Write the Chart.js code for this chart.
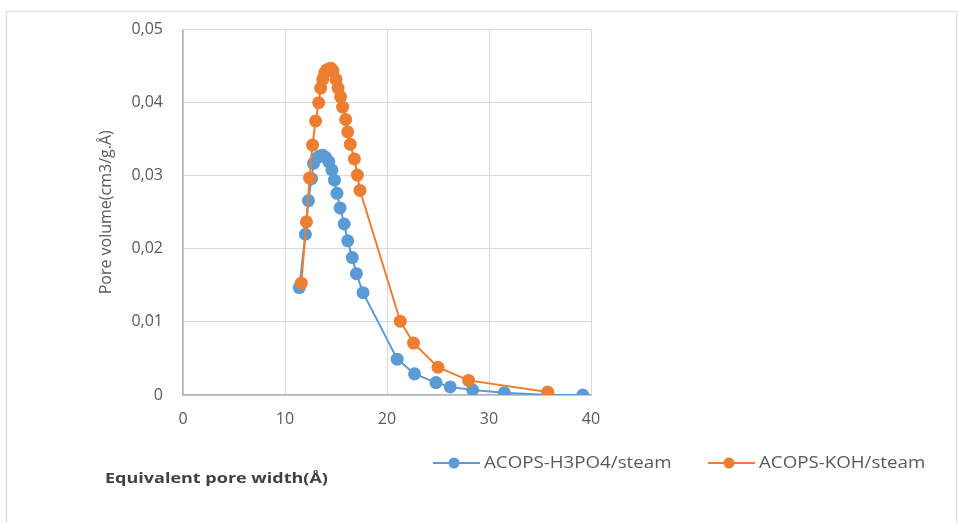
<!DOCTYPE html>
<html>
<head>
<meta charset="utf-8">
<script src="https://cdn.jsdelivr.net/npm/chart.js@4/dist/chart.umd.min.js"></script>
<style>
  html, body { margin: 0; padding: 0; background: #fff; }
  #wrap { width: 958px; height: 523px; position: relative; }
</style>
</head>
<body>
<div id="wrap"><canvas id="chart" width="958" height="523"></canvas></div>
<script>
// Pore size distribution
const h3po4Width = [11.4, 12.0, 12.3, 12.6, 12.8, 13.1, 13.4, 13.7, 14.0, 14.3, 14.6, 14.85, 15.1, 15.4, 15.8, 16.15, 16.6, 17.0, 17.65, 21.0, 22.7, 24.8, 26.2, 28.4, 31.5, 35.8, 39.2];
const h3po4Volume = [0.0147, 0.0220, 0.0266, 0.0296, 0.0317, 0.0324, 0.0327, 0.0328, 0.0325, 0.0319, 0.0308, 0.0294, 0.0276, 0.0256, 0.0234, 0.0211, 0.0188, 0.0166, 0.0140, 0.0049, 0.0029, 0.0017, 0.0011, 0.0007, 0.0003, 0.0000, 0.0000];

const kohWidth = [11.6, 12.1, 12.4, 12.7, 13.0, 13.3, 13.5, 13.7, 13.9, 14.1, 14.3, 14.5, 14.7, 15.0, 15.2, 15.45, 15.65, 15.95, 16.15, 16.4, 16.8, 17.1, 17.35, 21.3, 22.6, 25.0, 28.0, 35.75];
const kohVolume = [0.0153, 0.0237, 0.0297, 0.0342, 0.0375, 0.0400, 0.0420, 0.0432, 0.0441, 0.0445, 0.0446, 0.0447, 0.0444, 0.0432, 0.0420, 0.0408, 0.0394, 0.0377, 0.0360, 0.0343, 0.0323, 0.0301, 0.0280, 0.0101, 0.0071, 0.0038, 0.0020, 0.0004];

const seriesNames = ['ACOPS-H3PO4/steam', 'ACOPS-KOH/steam'];
const xTitle = 'Equivalent pore width(Å)';
const yTitle = 'Pore volume(cm3/g.Å)';

const BLUE = '#5B9BD5';
const ORANGE = '#ED7D31';
const FONT = "'Open Sans', 'Liberation Sans', sans-serif";

const toPoints = (xs, ys) => xs.map((x, i) => ({ x: x, y: ys[i] }));

// the source picture is a bit stretched sideways, so hand-drawn text is too
function wideText(ctx, text, x, y, sx) {
    ctx.save();
    ctx.translate(x, y);
    ctx.scale(sx, 1);
    ctx.fillText(text, 0, 0);
    ctx.restore();
}

// frame, x title and legend drawn by hand to match the Excel layout
const extras = {
    id: 'extras',
    beforeDraw(chart) {
        const ctx = chart.ctx;
        ctx.save();
        ctx.strokeStyle = '#e2e2e2';
        ctx.lineWidth = 1.5;
        ctx.strokeRect(6.5, 11.5, 950, 540);
        ctx.restore();
    },
    afterDraw(chart) {
        const ctx = chart.ctx;
        ctx.save();
        ctx.textBaseline = 'middle';

        ctx.font = 'bold 15px ' + FONT;
        ctx.fillStyle = '#404040';
        wideText(ctx, xTitle, 105, 479, 1.2);

        const items = [
            { x: 433, color: BLUE, label: seriesNames[0] },
            { x: 708, color: ORANGE, label: seriesNames[1] }
        ];
        const y = 463;
        items.forEach(it => {
            ctx.strokeStyle = it.color;
            ctx.lineWidth = 2;
            ctx.beginPath();
            ctx.moveTo(it.x, y);
            ctx.lineTo(it.x + 47, y);
            ctx.stroke();
            ctx.fillStyle = it.color;
            ctx.beginPath();
            ctx.arc(it.x + 21, y, 5.5, 0, Math.PI * 2);
            ctx.fill();
            ctx.font = '16px ' + FONT;
            ctx.fillStyle = '#595959';
            wideText(ctx, it.label, it.x + 51, y, 1.17);
        });
        ctx.restore();
    }
};

new Chart(document.getElementById('chart'), {
    type: 'scatter',
    data: {
        datasets: [
            {
                label: seriesNames[0],
                data: toPoints(h3po4Width, h3po4Volume),
                showLine: true,
                borderColor: BLUE,
                backgroundColor: BLUE,
                borderWidth: 2,
                pointRadius: 6.5,
                pointBorderWidth: 0,
                order: 2
            },
            {
                label: seriesNames[1],
                data: toPoints(kohWidth, kohVolume),
                showLine: true,
                borderColor: ORANGE,
                backgroundColor: ORANGE,
                borderWidth: 2,
                pointRadius: 6.5,
                pointBorderWidth: 0,
                order: 1
            }
        ]
    },
    options: {
        responsive: false,
        animation: false,
        layout: { padding: { left: 5, top: 26, right: 367, bottom: 98 } },
        plugins: {
            legend: { display: false },
            tooltip: { enabled: false }
        },
        scales: {
            x: {
                type: 'linear',
                min: 0,
                max: 40,
                ticks: {
                    stepSize: 10,
                    padding: 15,
                    color: '#595959',
                    font: { family: FONT, size: 16 }
                },
                grid: { color: '#d9d9d9', drawTicks: false },
                border: { color: '#a9b6c6', width: 1.5 },
                afterFit: (scale) => { scale.height = 30; }
            },
            y: {
                min: 0,
                max: 0.05,
                ticks: {
                    stepSize: 0.01,
                    padding: 20,
                    color: '#595959',
                    font: { family: FONT, size: 16 },
                    callback: (v) => v === 0 ? '0' : v.toFixed(2).replace('.', ',')
                },
                grid: { color: '#d9d9d9', drawTicks: false },
                border: { color: '#b4b4b4', width: 1.5 },
                title: {
                    display: true,
                    text: yTitle,
                    color: '#595959',
                    font: { family: FONT, size: 16 },
                    padding: { top: 92, bottom: 0 }
                },
                afterFit: (scale) => { scale.width = 178; }
            }
        }
    },
    plugins: [extras]
});
</script>
</body>
</html>
